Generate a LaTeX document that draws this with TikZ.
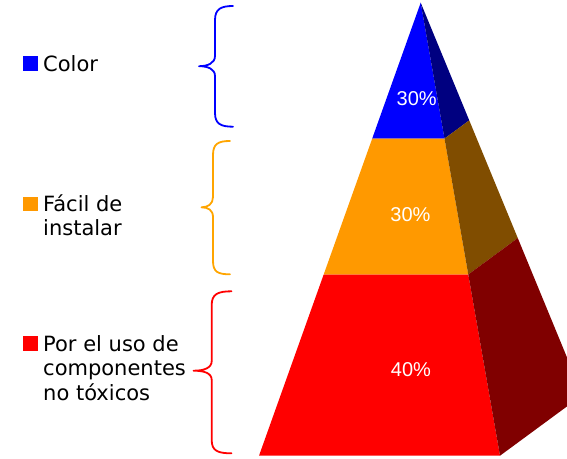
\documentclass[tikz,border=0pt]{standalone}
\usepackage{fontspec}
\setmainfont{DejaVu Sans}
\newfontfamily\pctfont{Liberation Sans}
\usetikzlibrary{calc}
\definecolor{cBlue}{RGB}{0,0,255}
\definecolor{cBlueD}{RGB}{0,0,128}
\definecolor{cOrange}{RGB}{255,153,0}
\definecolor{cOrangeD}{RGB}{128,77,0}
\definecolor{cRed}{RGB}{255,0,0}
\definecolor{cRedD}{RGB}{128,0,0}
\definecolor{cBraceOrange}{RGB}{255,165,0}
\tikzset{
  legendtext/.style={anchor=base west, align=left, inner sep=0pt, font=\fontsize{21}{24.5}\selectfont, text=black},
  marker/.style={minimum size=14.5pt, inner sep=0pt, draw=none},
  pct/.style={text=white, font=\pctfont\fontsize{20}{24}\selectfont, inner sep=0pt},
  bracestyle/.style={line width=1.8pt, line cap=round, line join=round},
}
\begin{document}
\begin{tikzpicture}[x=1pt, y=-1pt]
\useasboundingbox (0,0) rectangle (567,458);
% pyramid geometry
\coordinate (A) at (420.7,2.7);
\coordinate (FL) at (259,455.7);
\coordinate (FR) at (500,455.7);
\coordinate (BR) at (582.5,395);
\coordinate (L1) at ($(A)!0.3!(FL)$);
\coordinate (R1) at ($(A)!0.3!(FR)$);
\coordinate (B1) at ($(A)!0.3!(BR)$);
\coordinate (L2) at ($(A)!0.6!(FL)$);
\coordinate (R2) at ($(A)!0.6!(FR)$);
\coordinate (B2) at ($(A)!0.6!(BR)$);
\begin{scope}
\clip (0,0) rectangle (567,458);
\fill[cBlue] (A) -- (L1) -- (R1) -- cycle;
\fill[cBlueD] (A) -- (R1) -- (B1) -- cycle;
\fill[cOrange] (L1) -- (R1) -- (R2) -- (L2) -- cycle;
\fill[cOrangeD] (R1) -- (B1) -- (B2) -- (R2) -- cycle;
\fill[cRed] (L2) -- (R2) -- (FR) -- (FL) -- cycle;
\fill[cRedD] (R2) -- (B2) -- (BR) -- (FR) -- cycle;
\end{scope}
\node[pct] (p1) at (416.7,98.5) {30\%};
\node[pct] (p2) at (410.5,214.5) {30\%};
\node[pct] (p3) at (411,370) {40\%};
% legend
\node[marker, fill=cBlue] (m1) at (30.5,63.3) {};
\node[legendtext] (t1) at (43,71) {Color};
\node[marker, fill=cOrange] (m2) at (30.5,204) {};
\node[legendtext] (t2) at (43,235.5) {Fácil de\\instalar};
\node[marker, fill=cRed] (m3) at (30.5,343.7) {};
\node[legendtext] (t3) at (43,400) {Por el uso de\\componentes\\no tóxicos};
% braces
\draw[bracestyle, cBlue] (233,6) .. controls (221,6) and (215,9) .. (215,20) -- (215,56)
  .. controls (215,63) and (208,66.2) .. (199,66.2)
  .. controls (208,66.2) and (215,69) .. (215,76) -- (215,113)
  .. controls (215,124) and (221,126.7) .. (233,126.7);
\draw[bracestyle, cBraceOrange] (230,141) .. controls (218,141) and (213,144) .. (213,155) -- (213,197)
  .. controls (213,204) and (208,207.3) .. (201.5,207.3)
  .. controls (208,207.3) and (213,210) .. (213,217) -- (213,261)
  .. controls (213,272) and (218,274.3) .. (230,274.3);
\draw[bracestyle, cRed] (231.5,291.3) .. controls (218,291.3) and (211.7,294) .. (211.7,305) -- (211.7,361)
  .. controls (211.7,368) and (204,370.7) .. (193.5,370.7)
  .. controls (204,370.7) and (211.7,373) .. (211.7,380) -- (211.7,440)
  .. controls (211.7,451) and (218,453.3) .. (231.5,453.3);
\end{tikzpicture}
\end{document}
